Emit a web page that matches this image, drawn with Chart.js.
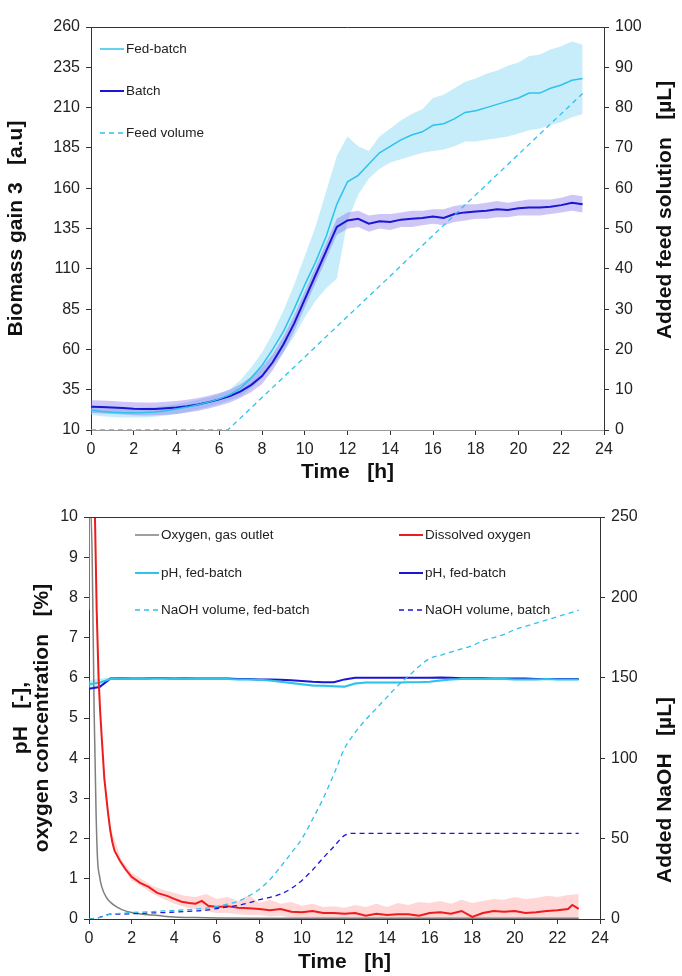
<!DOCTYPE html>
<html>
<head>
<meta charset="utf-8">
<script src="https://cdn.jsdelivr.net/npm/chart.js@4.4.1/dist/chart.umd.min.js"></script>
<style>
  html, body { margin: 0; padding: 0; background: #fff; }
  #top { position: absolute; left: 0; top: 0; }
  #bottom { position: absolute; left: 0; top: 490px; }
</style>
</head>
<body>
<canvas id="top" width="682" height="485"></canvas>
<canvas id="bottom" width="682" height="486"></canvas>
<script>
// ---- Data ----
// common time grid [h]
const hours = [0,0.5,1,1.5,2,2.5,3,3.5,4,4.5,5,5.5,6,6.5,7,7.5,8,8.5,9,9.5,10,10.5,11,11.5,12,12.5,13,13.5,14,14.5,15,15.5,16,16.5,17,17.5,18,18.5,19,19.5,20,20.5,21,21.5,22,22.5,23];

// top panel: biomass (left axis) and feed (right axis)
const fedBatch = [22.4,21.5,21,20.7,20.7,20.8,21.2,22,23,24.2,25.7,27.3,29.3,32,36,42.5,50,60,71,85,100,114,130,150,164,168,175,182,186,190,193,195,199,200,203,207,208,210,212,214,216,219,219,222,224,227,228];
const fedBatchUpper = [25.5,24.5,24,23.7,23.7,23.8,24.2,25,26,27.2,28.7,30.3,32.3,35.5,41,49,58,70,84,100,118,136,158,180,192,186,183,192,197,202,206,209,216,218,222,226,228,231,233,236,238,242,243,246,248,251,249];
const fedBatchLower = [19.5,18.5,18,17.7,17.7,17.8,18.2,19,20,21.2,22.7,24.3,26.3,28.5,31,36,42,50,58,68,80,90,98,104,140,156,166,172,176,178,180,182,183,184,186,189,189,190,191,192,194,196,197,199,201,204,206];
const batch = [24.5,24.3,24,23.6,23.2,23,23.1,23.5,24,24.8,25.8,27.3,29,31,34,38,43.5,52,63,76,91,106,121,136,140,141,138,139.5,139,140.5,141,141.5,142.5,141.5,144,145,145.5,146,147,146.5,147.5,148,148,148.5,149.5,151,150];
const batchUpper = [28.5,28.3,28,27.6,27.2,27,27.1,27.5,28,28.8,29.8,31.3,33,35,38.5,43,49,57,68,81,96,111,126,141,145,146,143,144,144,145,146,146,147,147,149,150,150,151,152,151,152,153,153,153,154,156,155];
const batchLower = [20.5,20.3,20,19.6,19.2,19,19.1,19.5,20,20.8,21.8,23.3,25,27,30,33.5,38.5,47,58,71,86,101,116,131,135,136,133,135,134,136,136,137,138,137,139,140,141,141,142,142,143,143,143,144,145,146,145];
const feedHours = [0, 6.4, 23];
const feedVolume = [0, 0, 83.5];

// bottom panel: oxygen / pH (left axis) and NaOH (right axis)
const gasHours = [0,0.02,0.15,0.24,0.33,0.4,0.5,0.6,0.8,1,1.3,1.6,2,2.5,3,3.5,4,5,6,8,10,12,14,16,18,20,23];
const gasOxygen = [7.7,10.5,9,5.2,2.7,1.5,1.05,0.8,0.55,0.42,0.3,0.22,0.16,0.12,0.1,0.07,0.05,0.035,0.025,0.02,0.02,0.02,0.02,0.02,0.02,0.02,0.02];
const doHours = [0.2,0.28,0.36,0.45,0.52,0.6,0.72,0.88,1,1.1,1.2,1.45,1.7,2,2.4,2.8,3.2,3.7,4,4.35,4.7,5,5.3,5.6,6,6.5,7,7.5,8,8.5,9,9.5,10,10.5,11,11.5,12,12.5,13,13.5,14,14.5,15,15.5,16,16.5,17,17.5,18,18.5,19,19.5,20,20.5,21,21.5,22,22.5,22.7,23];
const dissolvedO2 = [10.5,10,7.7,6,5.2,4.5,3.5,2.7,2.2,1.9,1.7,1.45,1.25,1.05,0.9,0.8,0.65,0.57,0.5,0.43,0.4,0.38,0.45,0.33,0.3,0.32,0.28,0.27,0.25,0.22,0.25,0.18,0.17,0.2,0.15,0.15,0.13,0.15,0.08,0.13,0.1,0.12,0.12,0.08,0.15,0.17,0.13,0.2,0.05,0.15,0.2,0.18,0.2,0.15,0.17,0.2,0.22,0.25,0.35,0.25];
const doBandHours = [1,1.5,2,2.5,3,3.5,4,4.5,5,5.5,6,6.5,7,7.5,8,8.5,9,9.5,10,10.5,11,11.5,12,12.5,13,13.5,14,14.5,15,15.5,16,16.5,17,17.5,18,18.5,19,19.5,20,20.5,21,21.5,22,22.5,23];
const doUpper = [2.3,1.5,1.15,0.98,0.82,0.72,0.65,0.58,0.55,0.62,0.5,0.55,0.45,0.6,0.4,0.48,0.38,0.42,0.33,0.38,0.3,0.32,0.28,0.35,0.3,0.38,0.3,0.4,0.35,0.42,0.4,0.45,0.38,0.48,0.4,0.45,0.5,0.48,0.55,0.5,0.52,0.58,0.55,0.6,0.62];
const doLower = [2.1,1.35,0.95,0.8,0.62,0.5,0.38,0.3,0.25,0.2,0.15,0.15,0.12,0.1,0.1,0.06,0.08,0.03,0.03,0.03,0.02,0.01,0,0,0,0,0,0,0,0,0,0,0,0,0,0,0,0,0,0,0,0,0,0,0];
const phFed = [5.84,5.88,5.97,5.98,5.97,5.97,5.98,5.98,5.97,5.98,5.97,5.97,5.97,5.97,5.96,5.96,5.95,5.93,5.9,5.87,5.84,5.81,5.8,5.79,5.78,5.86,5.88,5.88,5.88,5.88,5.89,5.89,5.9,5.93,5.96,5.97,5.97,5.97,5.97,5.97,5.96,5.96,5.96,5.97,5.96,5.96,5.96];
const phFedUpper = [5.94,5.98,6.0,6.0,5.99,5.99,6.0,6.0,5.99,6.0,5.99,5.99,5.99,5.99,5.98,5.98,5.97,5.95,5.92,5.89,5.86,5.84,5.83,5.82,5.81,5.89,5.9,5.9,5.9,5.9,5.91,5.91,5.92,5.95,5.98,5.99,5.99,5.99,5.99,5.99,5.98,5.98,5.98,5.99,5.98,5.98,5.98];
const phFedLower = [5.74,5.78,5.94,5.96,5.95,5.95,5.96,5.96,5.95,5.96,5.95,5.95,5.95,5.95,5.94,5.94,5.93,5.91,5.88,5.84,5.81,5.78,5.77,5.76,5.75,5.83,5.86,5.86,5.86,5.86,5.87,5.87,5.88,5.91,5.94,5.95,5.95,5.95,5.95,5.95,5.94,5.94,5.94,5.95,5.94,5.94,5.94];
const phBatch = [5.73,5.77,5.98,5.99,5.98,5.98,5.99,5.99,5.98,5.99,5.98,5.98,5.98,5.98,5.97,5.97,5.96,5.96,5.95,5.94,5.92,5.9,5.89,5.89,5.96,6,6,6,6,6,6,6,6,6.01,6,5.99,5.99,5.99,5.98,5.98,5.98,5.98,5.97,5.97,5.97,5.97,5.97];
const naohFed = [0,1,3,3.5,4,4.3,4.6,5,5.3,5.7,6.2,6.8,7.8,9.2,11,14.3,18.5,24.5,32.5,41,50,62,75,90,106,116,124,131,138,145,151,157,162,164,166,168,170,173,175,177,180,182,184,186,188,190,192];
const naohBatchHours = [0,0.5,1,1.5,2,2.5,3,3.5,4,4.5,5,5.5,6,6.5,7,7.5,8,8.5,9,9.5,10,10.5,11,11.5,12,12.5,23];
const naohBatch = [0,1,3,3,3.3,3.5,3.8,4,4.3,4.6,5,5.5,6.5,7.5,8.5,10,12,13.5,15.5,19,24,30.5,38,45,52,53.3,53.3];

// ---- Styles ----
const CYAN = '#2cc3ec';
const BLUE = '#1b16d4';
const RED = '#ee1c1c';
const GREY = '#7f7f7f';
const CYAN_BAND = 'rgba(130, 212, 245, 0.45)';
const BLUE_BAND = 'rgba(125, 105, 235, 0.38)';
const RED_BAND = 'rgba(255, 140, 140, 0.35)';

Chart.defaults.font.family = "'Liberation Sans', Arial, sans-serif";
Chart.defaults.color = '#222';
Chart.defaults.animation = false;

const pts = (xs, ys) => xs.map((x, i) => ({ x: x, y: ys[i] }));

// Legend drawn inside the plot + top frame line + right-axis title (reads bottom-to-top)
const extrasPlugin = {
    id: 'extras',
    afterDraw(chart, args, opts) {
        const ctx = chart.ctx;
        const area = chart.chartArea;
        ctx.save();
        // top frame
        ctx.strokeStyle = '#333';
        ctx.lineWidth = 1;
        ctx.beginPath();
        ctx.moveTo(area.left, area.top + 0.5);
        ctx.lineTo(area.right, area.top + 0.5);
        ctx.stroke();

        // legend
        ctx.font = "13.5px 'Liberation Sans', Arial, sans-serif";
        ctx.textBaseline = 'middle';
        opts.legend.forEach(item => {
            const ds = chart.data.datasets[item.ds];
            ctx.beginPath();
            ctx.setLineDash(ds.borderDash || []);
            ctx.strokeStyle = ds.borderColor;
            ctx.lineWidth = ds.borderWidth;
            ctx.moveTo(item.x, item.y);
            ctx.lineTo(item.x + 24, item.y);
            ctx.stroke();
            ctx.setLineDash([]);
            ctx.fillStyle = '#222';
            ctx.fillText(ds.label, item.x + 26, item.y);
        });

        // right axis title
        const t = opts.rightTitle;
        ctx.translate(t.x, t.y);
        ctx.rotate(-Math.PI / 2);
        ctx.font = "bold 21px 'Liberation Sans', Arial, sans-serif";
        ctx.textAlign = 'center';
        ctx.fillStyle = '#111';
        ctx.fillText(t.text, 0, 0);
        ctx.restore();
    }
};

const tickFont = { size: 16 };
const titleFont = { size: 21, weight: 'bold' };
const axisGrid = { drawOnChartArea: false, drawTicks: true, tickLength: 5, color: '#333' };

// 1. Biomass / feed chart
new Chart(document.getElementById('top').getContext('2d'), {
    type: 'line',
    data: {
        datasets: [
            { label: 'fed upper', data: pts(hours, fedBatchUpper), borderWidth: 0, pointRadius: 0, fill: false, order: 4 },
            { label: 'fed lower', data: pts(hours, fedBatchLower), borderWidth: 0, pointRadius: 0, fill: '-1', backgroundColor: CYAN_BAND, order: 4 },
            { label: 'batch upper', data: pts(hours, batchUpper), borderWidth: 0, pointRadius: 0, fill: false, order: 3 },
            { label: 'batch lower', data: pts(hours, batchLower), borderWidth: 0, pointRadius: 0, fill: '-1', backgroundColor: BLUE_BAND, order: 3 },
            { label: 'Fed-batch', data: pts(hours, fedBatch), borderColor: CYAN, borderWidth: 1.5, pointRadius: 0, tension: 0, order: 1 },
            { label: 'Batch', data: pts(hours, batch), borderColor: BLUE, borderWidth: 2, pointRadius: 0, tension: 0, order: 1 },
            { label: 'Feed volume', data: pts(feedHours, feedVolume), yAxisID: 'y2', borderColor: CYAN, borderWidth: 1.3, borderDash: [5, 4], pointRadius: 0, order: 0 }
        ]
    },
    options: {
        responsive: false,
        layout: { padding: { top: 27, left: 0, right: 0, bottom: 0 } },
        plugins: {
            legend: { display: false },
            tooltip: { enabled: false },
            extras: {
                legend: [
                    { ds: 4, x: 100, y: 49 },
                    { ds: 5, x: 100, y: 91 },
                    { ds: 6, x: 100, y: 133 }
                ],
                rightTitle: { text: 'Added feed solution   [µL]', x: 665, y: 210 }
            }
        },
        scales: {
            x: {
                type: 'linear', min: 0, max: 24,
                ticks: { stepSize: 2, font: tickFont, padding: 5, maxRotation: 0 },
                grid: axisGrid,
                border: { color: '#999' },
                title: { display: true, text: 'Time   [h]', font: titleFont, color: '#111', padding: { top: 0, bottom: 0 } },
                afterFit: s => { s.height = 55; }
            },
            y: {
                position: 'left', min: 10, max: 260,
                ticks: { stepSize: 25, font: tickFont, padding: 6 },
                grid: axisGrid,
                border: { color: '#333' },
                title: { display: true, text: 'Biomass gain 3   [a.u]', font: titleFont, color: '#111', padding: { top: 4, bottom: 0 } },
                afterFit: s => { s.width = 91; }
            },
            y2: {
                position: 'right', min: 0, max: 100,
                ticks: { stepSize: 10, font: tickFont, padding: 6 },
                grid: axisGrid,
                border: { color: '#333' },
                afterFit: s => { s.width = 78; }
            }
        }
    },
    plugins: [extrasPlugin]
});

// 2. Oxygen / pH / NaOH chart
new Chart(document.getElementById('bottom').getContext('2d'), {
    type: 'line',
    data: {
        datasets: [
            { label: 'DO upper', data: pts(doBandHours, doUpper), borderWidth: 0, pointRadius: 0, fill: false, order: 4 },
            { label: 'DO lower', data: pts(doBandHours, doLower), borderWidth: 0, pointRadius: 0, fill: '-1', backgroundColor: RED_BAND, order: 4 },
            { label: 'pH upper', data: pts(hours, phFedUpper), borderWidth: 0, pointRadius: 0, fill: false, order: 3 },
            { label: 'pH lower', data: pts(hours, phFedLower), borderWidth: 0, pointRadius: 0, fill: '-1', backgroundColor: CYAN_BAND, order: 3 },
            { label: 'Oxygen, gas outlet', data: pts(gasHours, gasOxygen), borderColor: GREY, borderWidth: 1.5, pointRadius: 0, cubicInterpolationMode: 'monotone', order: 2 },
            { label: 'Dissolved oxygen', data: pts(doHours, dissolvedO2), borderColor: RED, borderWidth: 2, pointRadius: 0, tension: 0, order: 1 },
            { label: 'pH, fed-batch', data: pts(hours, phFed), borderColor: CYAN, borderWidth: 2, pointRadius: 0, tension: 0, order: 1 },
            { label: 'pH, fed-batch', data: pts(hours, phBatch), borderColor: BLUE, borderWidth: 2, pointRadius: 0, tension: 0, order: 1 },
            { label: 'NaOH volume, fed-batch', data: pts(hours, naohFed), yAxisID: 'y2', borderColor: CYAN, borderWidth: 1.3, borderDash: [5, 4], pointRadius: 0, cubicInterpolationMode: 'monotone', order: 0 },
            { label: 'NaOH volume, batch', data: pts(naohBatchHours, naohBatch), yAxisID: 'y2', borderColor: BLUE, borderWidth: 1.3, borderDash: [5, 4], pointRadius: 0, cubicInterpolationMode: 'monotone', order: 0 }
        ]
    },
    options: {
        responsive: false,
        layout: { padding: { top: 27, left: 0, right: 0, bottom: 0 } },
        plugins: {
            legend: { display: false },
            tooltip: { enabled: false },
            extras: {
                legend: [
                    { ds: 4, x: 135, y: 45 },
                    { ds: 5, x: 399, y: 45 },
                    { ds: 6, x: 135, y: 83 },
                    { ds: 7, x: 399, y: 83 },
                    { ds: 8, x: 135, y: 120 },
                    { ds: 9, x: 399, y: 120 }
                ],
                rightTitle: { text: 'Added NaOH   [µL]', x: 665, y: 300 }
            }
        },
        scales: {
            x: {
                type: 'linear', min: 0, max: 24,
                ticks: { stepSize: 2, font: tickFont, padding: 5, maxRotation: 0 },
                grid: axisGrid,
                border: { color: '#333' },
                title: { display: true, text: 'Time   [h]', font: titleFont, color: '#111', padding: { top: 0, bottom: 1 } },
                afterFit: s => { s.height = 57; }
            },
            y: {
                position: 'left', min: 0, max: 10,
                ticks: { stepSize: 1, font: tickFont, padding: 6 },
                grid: axisGrid,
                border: { color: '#333' },
                title: { display: true, text: ['pH   [-],', 'oxygen concentration   [%]'], font: { size: 21, weight: 'bold', lineHeight: 1 }, color: '#111', padding: { top: 11, bottom: 0 } },
                afterFit: s => { s.width = 89; }
            },
            y2: {
                position: 'right', min: 0, max: 250,
                ticks: { stepSize: 50, font: tickFont, padding: 6 },
                grid: axisGrid,
                border: { color: '#333' },
                afterFit: s => { s.width = 82; }
            }
        }
    },
    plugins: [extrasPlugin]
});
</script>
</body>
</html>
